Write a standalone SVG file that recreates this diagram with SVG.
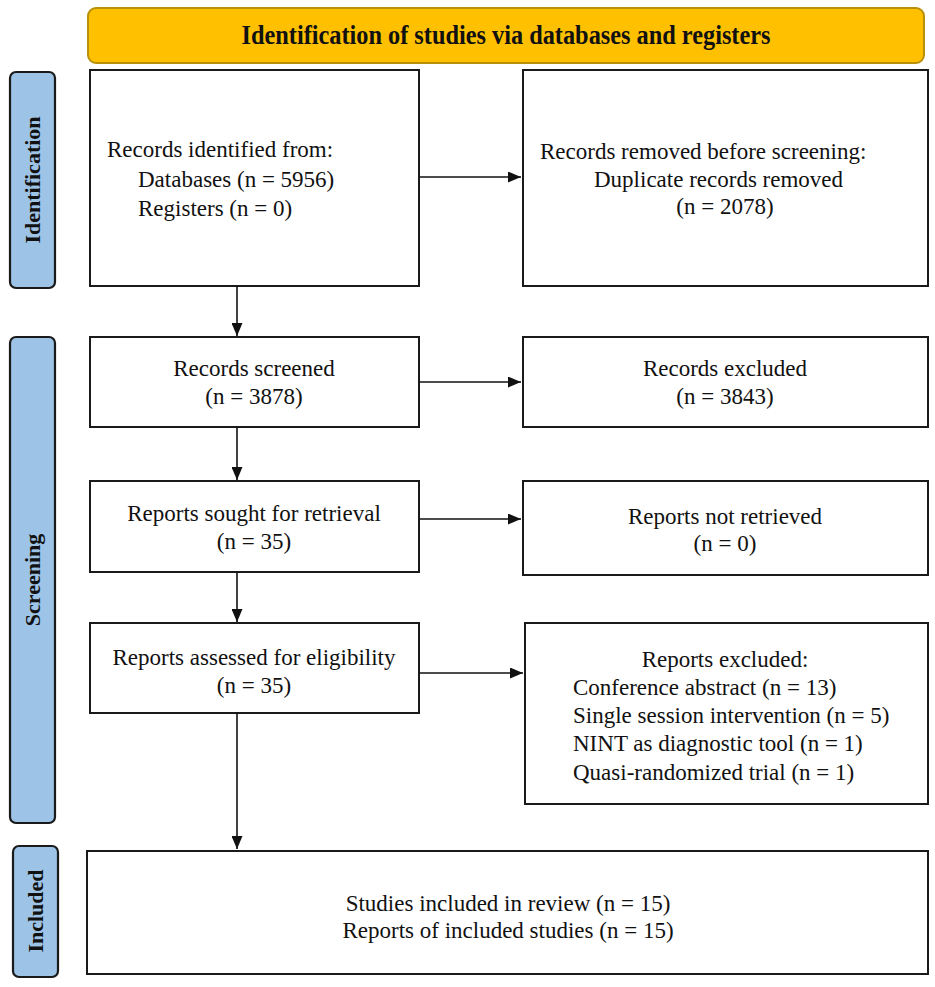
<svg xmlns="http://www.w3.org/2000/svg" width="935" height="987" viewBox="0 0 935 987">
<style>
.box{fill:#fff;stroke:#1a1a1a;stroke-width:2}
.side{fill:#9dc3e6;stroke:#1a1a1a;stroke-width:2.2}
.t{font-family:"Liberation Serif","Times New Roman",serif;font-size:23px;fill:#111}
.c{text-anchor:middle}
.lab{font-family:"Liberation Serif","Times New Roman",serif;font-size:22px;font-weight:bold;fill:#111;text-anchor:middle}
.ln{stroke:#111;stroke-width:1.6;fill:none}
</style>
<defs>
<marker id="ah" markerWidth="13" markerHeight="11" refX="13" refY="5.5" orient="auto" markerUnits="userSpaceOnUse">
<path d="M0,0 L13,5.5 L0,11 Z" fill="#111"/>
</marker>
</defs>
<rect width="935" height="987" fill="#fff"/>
<g id="header">
<rect x="88" y="8" width="836" height="55" rx="8" fill="#ffc000" stroke="#b8900a" stroke-width="2"/>
<text x="506" y="44" font-family="Liberation Serif,Times New Roman,serif" font-size="27" font-weight="bold" fill="#111" text-anchor="middle" textLength="529" lengthAdjust="spacingAndGlyphs">Identification of studies via databases and registers</text>
</g>
<g id="label-identification">
<rect x="10" y="72" width="45" height="216" rx="6" class="side"/>
<text class="lab" transform="translate(40,180) rotate(-90)">Identification</text>
</g>
<g id="label-screening">
<rect x="10" y="337" width="45" height="486" rx="6" class="side"/>
<text class="lab" transform="translate(40,580) rotate(-90)">Screening</text>
</g>
<g id="label-included">
<rect x="13" y="846" width="45" height="131" rx="6" class="side"/>
<text class="lab" transform="translate(43,911) rotate(-90)">Included</text>
</g>
<g id="records-identified">
<rect x="90" y="70" width="329" height="216" class="box"/>
<text class="t" x="107" y="157">Records identified from:</text>
<text class="t" x="138" y="187">Databases (n = 5956)</text>
<text class="t" x="138" y="216">Registers (n = 0)</text>
</g>
<g id="records-removed">
<rect x="523" y="70" width="405" height="216" class="box"/>
<text class="t" x="540" y="159">Records removed before screening:</text>
<text class="t" x="594" y="187">Duplicate records removed</text>
<text class="t c" x="725" y="214">(n = 2078)</text>
</g>
<g id="records-screened">
<rect x="90" y="337" width="329" height="90" class="box"/>
<text class="t c" x="254" y="376">Records screened</text>
<text class="t c" x="254" y="404">(n = 3878)</text>
</g>
<g id="records-excluded">
<rect x="523" y="337" width="405" height="90" class="box"/>
<text class="t c" x="725" y="376">Records excluded</text>
<text class="t c" x="725" y="404">(n = 3843)</text>
</g>
<g id="reports-sought">
<rect x="90" y="481" width="329" height="91" class="box"/>
<text class="t c" x="254" y="521">Reports sought for retrieval</text>
<text class="t c" x="254" y="549">(n = 35)</text>
</g>
<g id="reports-not-retrieved">
<rect x="523" y="481" width="405" height="94" class="box"/>
<text class="t c" x="725" y="524">Reports not retrieved</text>
<text class="t c" x="725" y="551">(n = 0)</text>
</g>
<g id="reports-assessed">
<rect x="90" y="623" width="329" height="90" class="box"/>
<text class="t c" x="254" y="665">Reports assessed for eligibility</text>
<text class="t c" x="254" y="693">(n = 35)</text>
</g>
<g id="reports-excluded">
<rect x="525" y="623" width="403" height="181" class="box"/>
<text class="t c" x="725" y="667">Reports excluded:</text>
<text class="t" x="573" y="695">Conference abstract (n = 13)</text>
<text class="t" x="573" y="723">Single session intervention (n = 5)</text>
<text class="t" x="573" y="751">NINT as diagnostic tool (n = 1)</text>
<text class="t" x="573" y="780">Quasi-randomized trial (n = 1)</text>
</g>
<g id="included">
<rect x="87" y="851" width="841" height="123" class="box"/>
<text class="t c" x="508" y="911">Studies included in review (n = 15)</text>
<text class="t c" x="508" y="938">Reports of included studies (n = 15)</text>
</g>
<g id="connectors">
<line class="ln" x1="237" y1="286" x2="237" y2="336" marker-end="url(#ah)"/>
<line class="ln" x1="237" y1="427" x2="237" y2="480" marker-end="url(#ah)"/>
<line class="ln" x1="237" y1="572" x2="237" y2="622" marker-end="url(#ah)"/>
<line class="ln" x1="237" y1="713" x2="237" y2="849" marker-end="url(#ah)"/>
<line class="ln" x1="420" y1="177" x2="521" y2="177" marker-end="url(#ah)"/>
<line class="ln" x1="420" y1="382" x2="521" y2="382" marker-end="url(#ah)"/>
<line class="ln" x1="420" y1="519" x2="521" y2="519" marker-end="url(#ah)"/>
<line class="ln" x1="420" y1="673" x2="523" y2="673" marker-end="url(#ah)"/>
</g>
</svg>
